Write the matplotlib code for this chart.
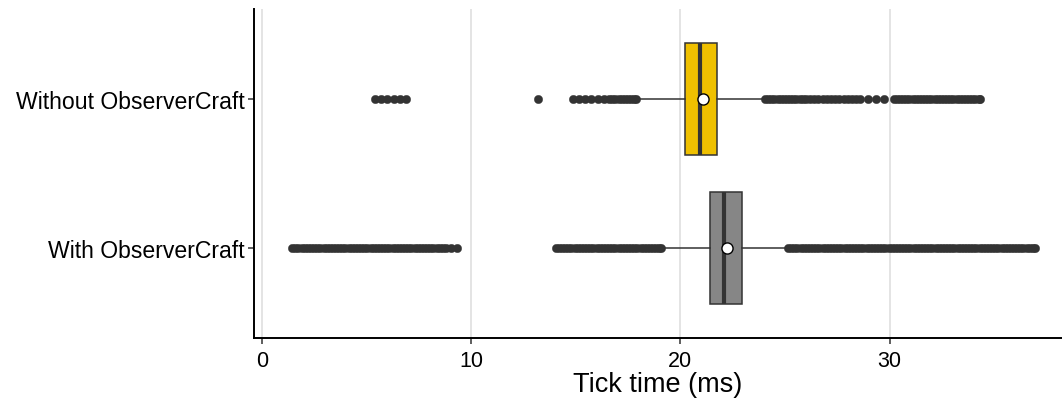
import matplotlib
matplotlib.use("Agg")
import matplotlib.pyplot as plt

plt.rcParams['font.family'] = ['Liberation Sans', 'DejaVu Sans']

# groups, bottom to top
groups = ["With ObserverCraft", "Without ObserverCraft"]
colors = ["#868686", "#EFC000"]

# box statistics (ms)
q1 = [21.42, 20.22]
median = [22.08, 20.95]
q3 = [22.96, 21.77]
whisker_lo = [19.2, 17.95]
whisker_hi = [25.0, 23.9]
means = [22.22, 21.07]

# outliers (dense bands read as closely spaced points)
outliers_with = [
    1.45, 1.6, 1.75, 1.9, 2.05, 2.2, 2.35, 2.5, 2.65, 2.8, 2.95, 3.1, 3.25,
    3.4, 3.55, 3.7, 3.85, 4.0, 4.15, 4.3, 4.45, 4.6, 4.75, 4.9, 5.05, 5.2,
    5.35, 5.5, 5.65, 5.8, 5.95, 6.1, 6.25, 6.4, 6.55, 6.7, 6.85, 7.0, 7.15,
    7.3, 7.45, 7.6, 7.75, 7.9, 8.05, 8.2, 8.35, 8.5, 8.65, 8.8, 9.05, 9.35,
    14.05, 14.2, 14.35, 14.5, 14.65, 14.8, 14.95, 15.1, 15.25, 15.4, 15.55,
    15.7, 15.85, 16.0, 16.15, 16.3, 16.45, 16.6, 16.75, 16.9, 17.05, 17.2,
    17.35, 17.5, 17.65, 17.8, 17.95, 18.1, 18.25, 18.4, 18.55, 18.7, 18.85,
    19.0, 19.1,
    25.15, 25.3, 25.45, 25.6, 25.75, 25.9, 26.05, 26.2, 26.35, 26.5, 26.65,
    26.8, 26.95, 27.1, 27.25, 27.4, 27.55, 27.7, 27.85, 28.0, 28.15, 28.3,
    28.45, 28.6, 28.75, 28.9, 29.05, 29.2, 29.35, 29.5, 29.65, 29.8, 29.95,
    30.1, 30.25, 30.4, 30.55, 30.7, 30.85, 31.0, 31.15, 31.3, 31.45, 31.6,
    31.75, 31.9, 32.05, 32.2, 32.35, 32.5, 32.65, 32.8, 32.95, 33.1, 33.25,
    33.4, 33.55, 33.7, 33.85, 34.0, 34.15, 34.3, 34.45, 34.6, 34.75, 34.9,
    35.05, 35.2, 35.35, 35.5, 35.65, 35.8, 35.95, 36.1, 36.25, 36.4, 36.55,
    36.7, 36.85, 36.95,
]
outliers_without = [
    5.4, 5.7, 6.0, 6.3, 6.6, 6.9,
    13.2,
    14.85, 15.15, 15.45, 15.75, 16.05, 16.35, 16.6, 16.75, 16.9, 17.05,
    17.2, 17.35, 17.5, 17.65, 17.8, 17.9,
    24.05, 24.2, 24.35, 24.5, 24.65, 24.8, 24.95, 25.1, 25.25, 25.4, 25.55,
    25.7, 25.85, 26.0, 26.2, 26.4, 26.6, 26.8, 27.0, 27.2, 27.4, 27.6, 27.8,
    28.0, 28.2, 28.4, 28.6, 28.95, 29.35, 29.75, 30.2, 30.35, 30.5, 30.65,
    30.8, 30.95, 31.1, 31.25, 31.4, 31.55, 31.7, 31.85, 32.0, 32.15, 32.3,
    32.45, 32.6, 32.75, 32.9, 33.05, 33.2, 33.35, 33.5, 33.65, 33.8, 33.95,
    34.1, 34.25, 34.3,
]
fliers = [outliers_with, outliers_without]

xticks = [0, 10, 20, 30]

dark = "#333333"

stats = []
for i in range(len(groups)):
    stats.append(dict(q1=q1[i], med=median[i], q3=q3[i],
                      whislo=whisker_lo[i], whishi=whisker_hi[i],
                      mean=means[i], fliers=fliers[i], label=groups[i]))

fig = plt.figure(figsize=(10.62, 4.02), dpi=100)
ax = fig.add_axes((0.2392, 0.1567, 0.7608, 0.8183))

positions = list(range(1, len(groups) + 1))
bp = ax.bxp(stats, positions=positions, vert=False, widths=0.75,
            patch_artist=True, showmeans=True, showcaps=False,
            boxprops=dict(edgecolor=dark, linewidth=1.1),
            medianprops=dict(color=dark, linewidth=3.0, solid_capstyle='butt'),
            whiskerprops=dict(color=dark, linewidth=1.1),
            flierprops=dict(marker='o', markerfacecolor=dark, markeredgecolor=dark,
                            markersize=6.0, markeredgewidth=0.3),
            meanprops=dict(marker='o', markerfacecolor='white', markeredgecolor='black',
                           markersize=8, markeredgewidth=1.0),
            zorder=3)
for patch, c in zip(bp['boxes'], colors):
    patch.set_facecolor(c)

ax.set_xlim(-0.37, 38.24)
ax.set_ylim(0.4, 2.6)
ax.set_xticks(xticks)
ax.set_yticks(positions)
ax.set_yticklabels(groups)

ax.grid(axis='x', color='#dcdcdc', linewidth=1.1, zorder=0)
ax.set_axisbelow(True)

for side in ['top', 'right']:
    ax.spines[side].set_visible(False)
for side in ['left', 'bottom']:
    ax.spines[side].set_linewidth(1.4)
    ax.spines[side].set_color('black')

ax.tick_params(axis='x', length=4.3, width=1.1, color=dark, labelsize=15.5, pad=4, labelcolor='black')
ax.tick_params(axis='y', length=4.3, width=1.1, color=dark, labelsize=16.6, pad=2.5, labelcolor='black')
ax.set_xlabel("Tick time (ms)", fontsize=19.5, labelpad=0)

fig.savefig("out.png", dpi=100)
